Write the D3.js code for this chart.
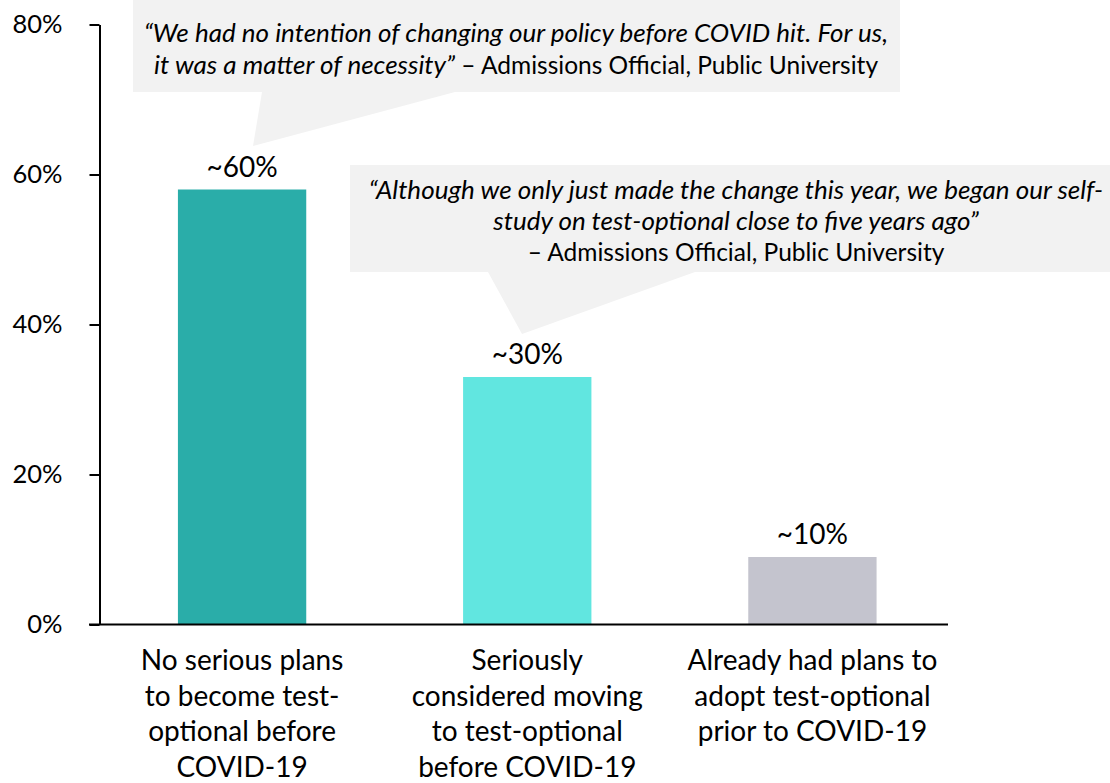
<!DOCTYPE html>
<html>
<head>
<meta charset="utf-8">
<script src="https://cdn.jsdelivr.net/npm/d3@7"></script>
<style>
	body { margin: 0; background: #fff; }
	svg { display: block; font-family: Lato, "Open Sans", sans-serif; }
</style>
</head>
<body>
<svg id="chart" width="1110" height="783"></svg>
<script>
// data
var categories = [
	["No serious plans", "to become test-", "optional before", "COVID-19"],
	["Seriously", "considered moving", "to test-optional", "before COVID-19"],
	["Already had plans to", "adopt test-optional", "prior to COVID-19"]
];
var values = [58, 33, 9];
var valueLabels = ["~60%", "~30%", "~10%"];
var barColors = ["#2aada9", "#61e6e0", "#c4c4ce"];
var yTicks = [0, 20, 40, 60, 80];

var quote1 = [
	[{t: "\u201cWe had no intention of changing our policy before COVID hit. For us,", i: true}],
	[{t: "it was a matter of necessity\u201d", i: true}, {t: "  \u2013 Admissions Official, Public University", i: false}]
];
var quote2 = [
	[{t: "\u201cAlthough we only just made the change this year, we began our self-", i: true}],
	[{t: "study on test-optional close to five years ago\u201d", i: true}],
	[{t: "\u2013 Admissions Official, Public University", i: false}]
];

var svg = d3.select("#chart");

var y = d3.scaleLinear().domain([0, 80]).range([624.5, 24.5]);
var x = d3.scaleBand()
	.domain(d3.range(values.length))
	.range([99.5, 955])
	.paddingInner(0.55)
	.paddingOuter(0.275);

// callouts (drawn first, behind everything)
function callout(box, ptr, lines, cx, firstY, lineH) {
	var g = svg.append("g");
	g.append("path")
		.attr("d", "M" + box[0] + "," + box[1] + "H" + box[2] + "V" + box[3] +
			"H" + ptr[1] + "L" + ptr[2] + "," + ptr[3] + "L" + ptr[0] + "," + box[3] +
			"H" + box[0] + "Z")
		.attr("fill", "#f2f2f2");
	lines.forEach(function (line, k) {
		var t = g.append("text")
			.attr("x", cx)
			.attr("y", firstY + k * lineH)
			.attr("text-anchor", "middle")
			.attr("fill", "#000");
		line.forEach(function (seg) {
			t.append("tspan")
				.attr("font-style", seg.i ? "italic" : "normal")
				.attr("font-size", seg.i ? 26 : 24.5)
				.text(seg.t);
		});
	});
}

callout([133, 0, 900, 92], [262, 455, 253, 146], quote1, 516, 42, 32);
callout([350, 165, 1110, 272], [488, 695, 522, 334], quote2, 736, 199, 31);

// bars
svg.append("g")
	.selectAll("rect")
	.data(values)
	.enter().append("rect")
	.attr("x", function (d, i) { return x(i); })
	.attr("y", function (d) { return y(d); })
	.attr("width", x.bandwidth())
	.attr("height", function (d) { return y(0) - y(d); })
	.attr("fill", function (d, i) { return barColors[i]; });

// value labels
svg.append("g")
	.selectAll("text")
	.data(values)
	.enter().append("text")
	.attr("x", function (d, i) { return x(i) + x.bandwidth() / 2; })
	.attr("y", function (d) { return y(d) - 13; })
	.attr("text-anchor", "middle")
	.attr("font-size", 28)
	.text(function (d, i) { return valueLabels[i]; });

// y axis
var yAxis = svg.append("g")
	.attr("transform", "translate(99.5,0)")
	.call(d3.axisLeft(y).tickValues(yTicks).tickSize(10).tickSizeOuter(0)
		.tickFormat(function (d) { return d + "%"; }));
yAxis.select(".domain").attr("stroke", "#000").attr("stroke-width", 2);
yAxis.selectAll(".tick line").attr("stroke", "#000").attr("stroke-width", 2);
yAxis.selectAll(".tick text")
	.attr("font-size", 25.5)
	.attr("font-family", "Lato, sans-serif")
	.attr("fill", "#000")
	.attr("x", -37);

// x axis line
svg.append("line")
	.attr("x1", 89).attr("x2", 948)
	.attr("y1", y(0)).attr("y2", y(0))
	.attr("stroke", "#000").attr("stroke-width", 2);

// category labels
var cat = svg.append("g")
	.selectAll("text")
	.data(categories)
	.enter().append("text")
	.attr("text-anchor", "middle")
	.attr("font-size", 28)
	.attr("transform", function (d, i) { return "translate(" + (x(i) + x.bandwidth() / 2) + ",0)"; });
cat.selectAll("tspan")
	.data(function (d) { return d; })
	.enter().append("tspan")
	.attr("x", 0)
	.attr("y", function (d, k) { return 670 + k * 35.7; })
	.text(function (d) { return d; });
</script>
</body>
</html>
